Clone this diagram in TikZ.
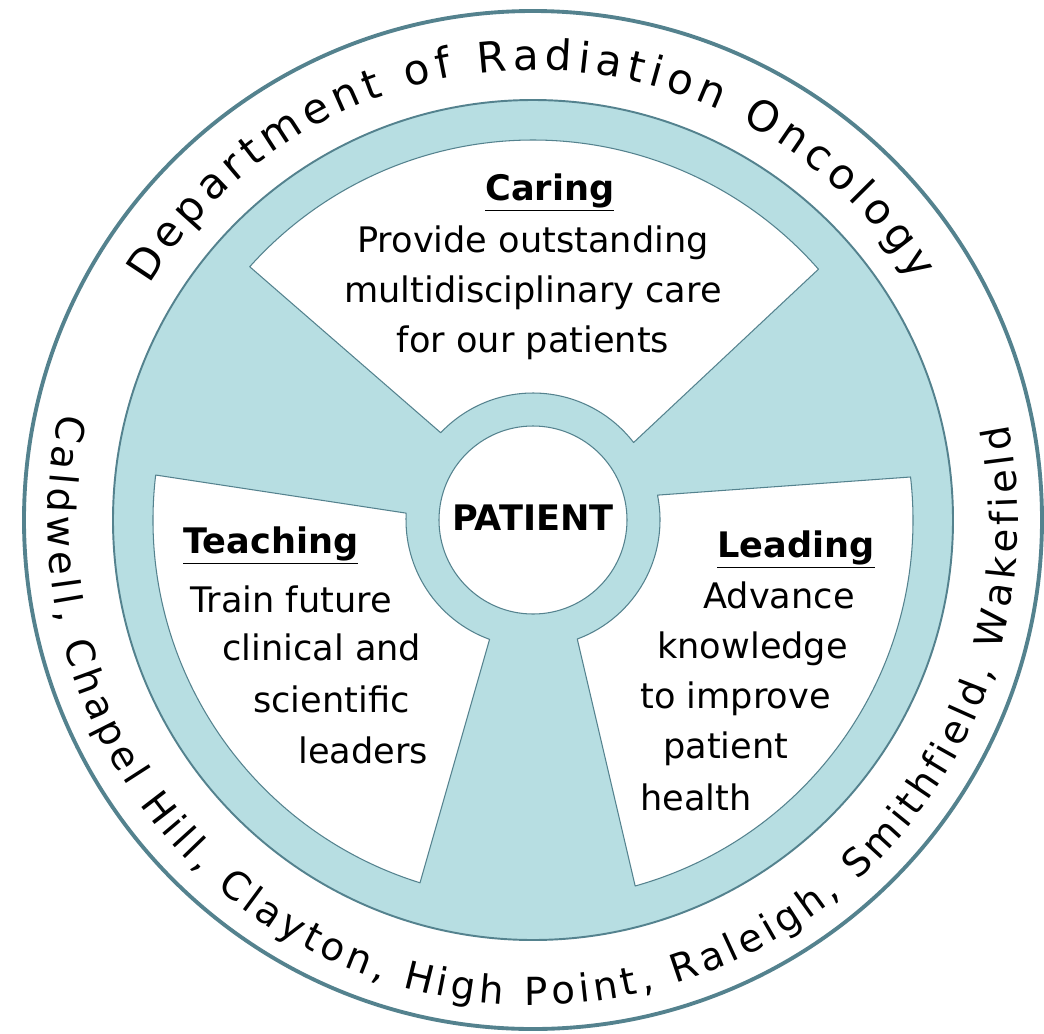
\documentclass[tikz,border=0pt]{standalone}
\usepackage{fontspec}
\setmainfont{DejaVu Sans}
\usetikzlibrary{decorations.text}
\definecolor{tealfill}{RGB}{183,222,226}
\definecolor{tealline}{RGB}{84,130,142}
\newcommand{\bodysize}{\fontsize{20}{24}\selectfont}
\newcommand{\arcsize}{\fontsize{24}{28}\selectfont}
\newcommand{\sitesize}{\fontsize{22}{26}\selectfont}

\begin{document}
\begin{tikzpicture}[line join=round,
	body/.style={font=\bodysize, inner sep=0pt},
	head/.style={font=\bodysize\bfseries, inner sep=0pt},
	leaf/.style={draw=tealline, line width=0.6pt, fill=white}]
	\useasboundingbox (-10.66,-10.26) rectangle (10.22,10.4);
	% vong ngoai + dia xanh
	\draw[tealline, line width=2.2pt, fill=white] (0,0) circle (10.18);
	\draw[tealline, line width=1.1pt, fill=tealfill] (0,0) circle (8.4);
	% ba canh trang: goc ngoai \a,\b ; goc trong \c,\d
	\foreach \a/\b/\c/\d in {41.3/138.2/37.6/136.6, 173.2/252.7/176.9/250, 285.6/366.5/290.4/371.3}
	\draw[leaf] (\c:2.54) -- (\a:7.6) arc[start angle=\a, end angle=\b, radius=7.6]
		-- (\d:2.54) arc[start angle=\d, end angle=\c, radius=2.54] -- cycle;
	\draw[tealline, line width=0.6pt, fill=white] (0,0) circle (1.88);
	\node[head, anchor=base] (patient) at (0,-0.2) {PATIENT};
	% Caring
	\node[head, anchor=base west] (caring) at (-0.96,6.4) {\underline{Caring}};
	\foreach \y/\t [count=\i] in {5.36/Provide outstanding, 4.36/multidisciplinary care, 3.36/for our patients}
	\node[body, anchor=base] (caring\i) at (0,\y) {\t};
	% Teaching
	\node[head, anchor=base west] (teaching) at (-7.0,-0.66) {\underline{Teaching}};
	\foreach \x/\y/\t [count=\i] in {-6.86/-1.84/Train future, -6.22/-2.8/clinical and, -5.6/-3.84/scientific, -4.7/-4.86/leaders}
	\node[body, anchor=base west] (teaching\i) at (\x,\y) {\t};
	% Leading
	\node[head, anchor=base west] (leading) at (3.68,-0.74) {\underline{Leading}};
	\foreach \x/\y/\t [count=\i] in {3.4/-1.76/Advance, 2.48/-2.76/knowledge, 2.14/-3.76/to improve, 2.6/-4.76/patient, 2.14/-5.8/health}
	\node[body, anchor=base west] (leading\i) at (\x,\y) {\t};
	% chu chay theo vong
	\path[decorate, decoration={text along path, text align={fit to path},
		text={|\arcsize|Department of Radiation Oncology}}]
		(148.5:9) arc[start angle=148.5, end angle=32, radius=9];
	\path[decorate, decoration={text along path, text align={fit to path},
		text={|\sitesize|Caldwell, Chapel Hill, Clayton, High Point, Raleigh, Smithfield, Wakefield}}]
		(167.3:9.7) arc[start angle=167.3, end angle=371.3, radius=9.7];
\end{tikzpicture}
\end{document}
